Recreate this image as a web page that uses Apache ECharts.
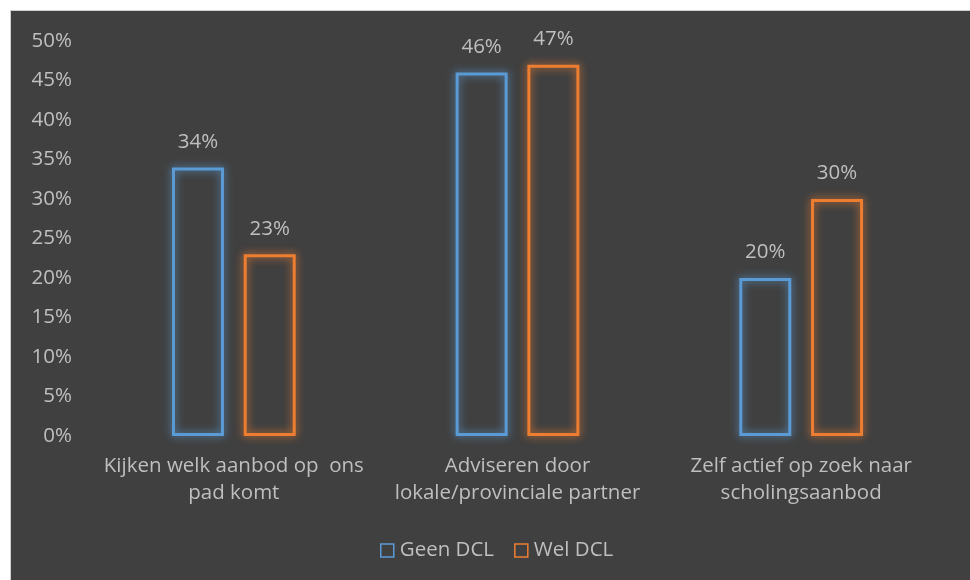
<!DOCTYPE html>
<html><head><meta charset="utf-8">
<script src="https://cdn.jsdelivr.net/npm/echarts@6/dist/echarts.min.js"></script>
<style>html,body{margin:0;padding:0;background:#fff;}#c{width:970px;height:580px;}</style>
</head><body><div id="c"></div>
<script>
const categories = ["Kijken welk aanbod op  ons\npad komt", "Adviseren door\nlokale/provinciale partner", "Zelf actief op zoek naar\nscholingsaanbod"];
const geenDCL = [34, 46, 20];
const welDCL = [23, 47, 30];
const seriesNames = ["Geen DCL", "Wel DCL"];
const yTicks = {min: 0, max: 50, interval: 5};

const font = "'Open Sans', 'Noto Sans', sans-serif";
const txt = '#bfbfbf';
const fs = 20.5;
const chart = echarts.init(document.getElementById('c'));
function mk(name, data, color){
  return {
    name, type: 'bar', data, barWidth: 52, barGap: '38%',
    itemStyle: {color: 'rgba(0,0,0,0)', borderColor: color, borderWidth: 3, shadowBlur: 9, shadowColor: color},
    label: {show: true, position: 'top', distance: 15, formatter: '{c}%', color: txt, fontSize: fs, fontFamily: font}
  };
}
chart.setOption({
  backgroundColor: '#fff',
  animation: false,
  graphic: [{type: 'rect', shape: {x: 10.5, y: 10.5, width: 970, height: 580}, style: {fill: '#404040', stroke: '#d0d0d0', lineWidth: 1}, z: -10}],
  grid: {left: 92, right: 27, top: 41, bottom: 144},
  legend: {bottom: 14, left: 375, itemWidth: 13, itemHeight: 13, itemGap: 20,
    textStyle: {color: txt, fontSize: fs, fontFamily: font, padding: [0,0,0,1]},
    data: seriesNames.map((n,i)=>({name: n, icon: 'rect', itemStyle: {color: 'rgba(0,0,0,0)', borderColor: i? '#ed7d31':'#5b9bd5', borderWidth: 1.5, shadowBlur: 0}}))},
  xAxis: {type: 'category', data: categories, axisLine: {show: false}, axisTick: {show: false},
    axisLabel: {color: txt, fontSize: fs, fontFamily: font, lineHeight: 27, margin: 17, interval: 0}},
  yAxis: {type: 'value', min: yTicks.min, max: yTicks.max, interval: yTicks.interval,
    splitLine: {show: false}, axisLine: {show: false}, axisTick: {show: false},
    axisLabel: {formatter: '{value}%', color: txt, fontSize: fs, fontFamily: font, margin: 20}},
  series: [mk(seriesNames[0], geenDCL, '#5b9bd5'), mk(seriesNames[1], welDCL, '#ed7d31')]
});
</script></body></html>
